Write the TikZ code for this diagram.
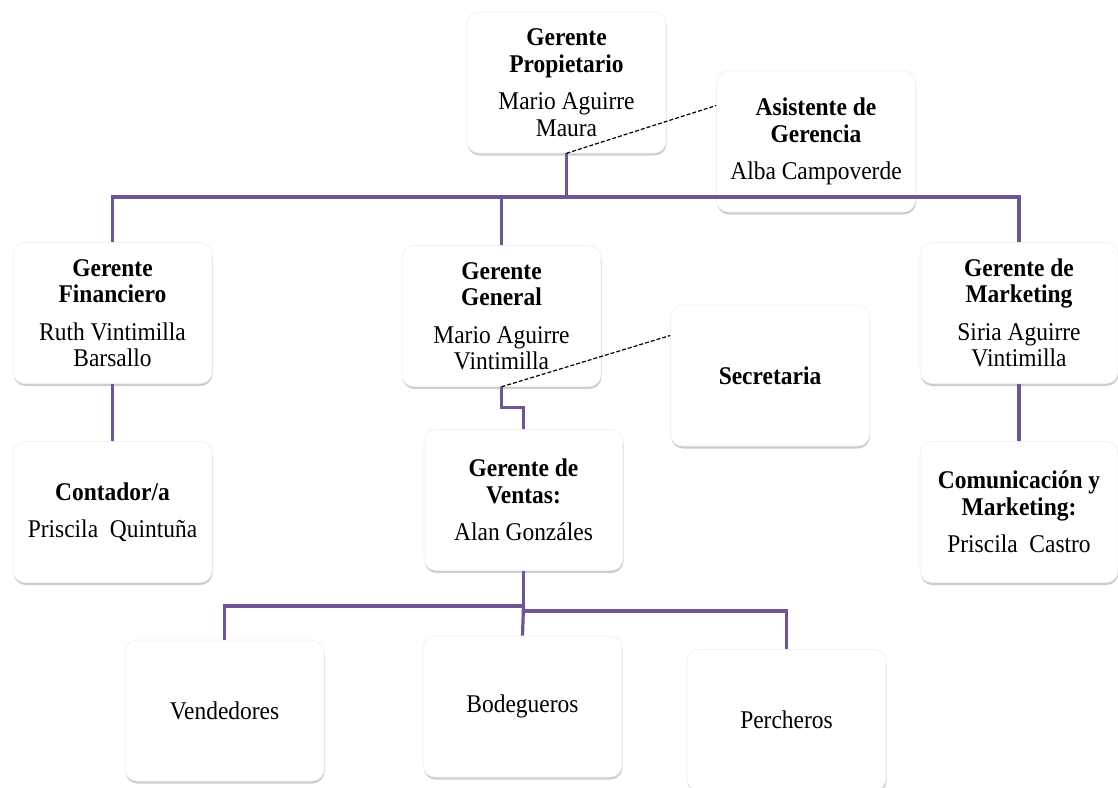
\documentclass[tikz,border=0pt]{standalone}
\usepackage{fontspec}
\setmainfont{Liberation Serif}[FakeStretch=0.92]
\usetikzlibrary{shadows}
\definecolor{orgline}{RGB}{112,84,148}
\tikzset{
  box/.style={rectangle, rounded corners=12pt, fill=white, draw=black!6, line width=0.6pt,
    minimum width=199pt, minimum height=141pt,
    align=center, inner sep=2pt, font=\fontsize{25.5}{26.5}\selectfont,
    drop shadow={shadow xshift=0.5pt, shadow yshift=-2.5pt, opacity=0.28, fill=black!70}},
  conn/.style={draw=orgline, line width=3.2pt},
  dashconn/.style={draw=black, line width=1.2pt, dash pattern=on 4pt off 2pt}
}
\begin{document}
\begin{tikzpicture}[x=1pt, y=-1pt]
\useasboundingbox (0,0) rectangle (1118,787);
\node[box] (prop) at (566.5,82.5) {\textbf{Gerente}\\\textbf{Propietario}\\[11pt]Mario Aguirre\\Maura};
\node[box] (asis) at (816,141.5) {\textbf{Asistente de}\\\textbf{Gerencia}\\[11pt]Alba Campoverde};
\node[box] (fin) at (112.5,313) {\textbf{Gerente}\\\textbf{Financiero}\\[11pt]Ruth Vintimilla\\Barsallo};
\node[box] (gen) at (501.5,316) {\textbf{Gerente}\\\textbf{General}\\[11pt]Mario Aguirre\\Vintimilla};
\node[box] (sec) at (770,375.5) {\textbf{Secretaria}};
\node[box, minimum width=198pt] (mkt) at (1019,313) {\textbf{Gerente de}\\\textbf{Marketing}\\[11pt]Siria Aguirre\\Vintimilla};
\node[box] (cont) at (112.5,512) {\textbf{Contador/a}\\[11pt]Priscila\ \ Quintuña};
\node[box] (ven) at (523.5,500) {\textbf{Gerente de}\\\textbf{Ventas:}\\[11pt]Alan Gonzáles};
\node[box, minimum width=198pt] (com) at (1019,512) {\textbf{Comunicación y}\\\textbf{Marketing:}\\[11pt]Priscila\ \ Castro};
\node[box] (vend) at (224.5,710.5) {Vendedores};
\node[box] (bod) at (522.5,706.5) {Bodegueros};
\node[box] (perc) at (786.5,720) {Percheros};

\coordinate (hbar) at (0,197);
\draw[conn] (prop.south) -- (prop.south |- hbar);
\draw[conn] (fin.north) -- (fin.north |- hbar) -- (mkt.north |- hbar) -- (mkt.north);
\draw[conn] (gen.north) -- (gen.north |- hbar);
\draw[conn] (fin.south) -- (cont.north);
\draw[conn] (mkt.south) -- (com.north);
\draw[conn] (gen.south) -- ++(0,21) -| (ven.north);
\coordinate (vb) at (523.5,606);
\coordinate (pb) at (523.5,611);
\draw[conn] (ven.south) -- (pb);
\draw[conn] (vb) -| (vend.north);
\draw[conn] (vb) -- (bod.north);
\draw[conn] (pb) -| (perc.north);
\draw[dashconn] (prop.south) -- ([yshift=36pt]asis.west);
\draw[dashconn] (gen.south) -- ([yshift=40pt]sec.west);
\end{tikzpicture}
\end{document}
